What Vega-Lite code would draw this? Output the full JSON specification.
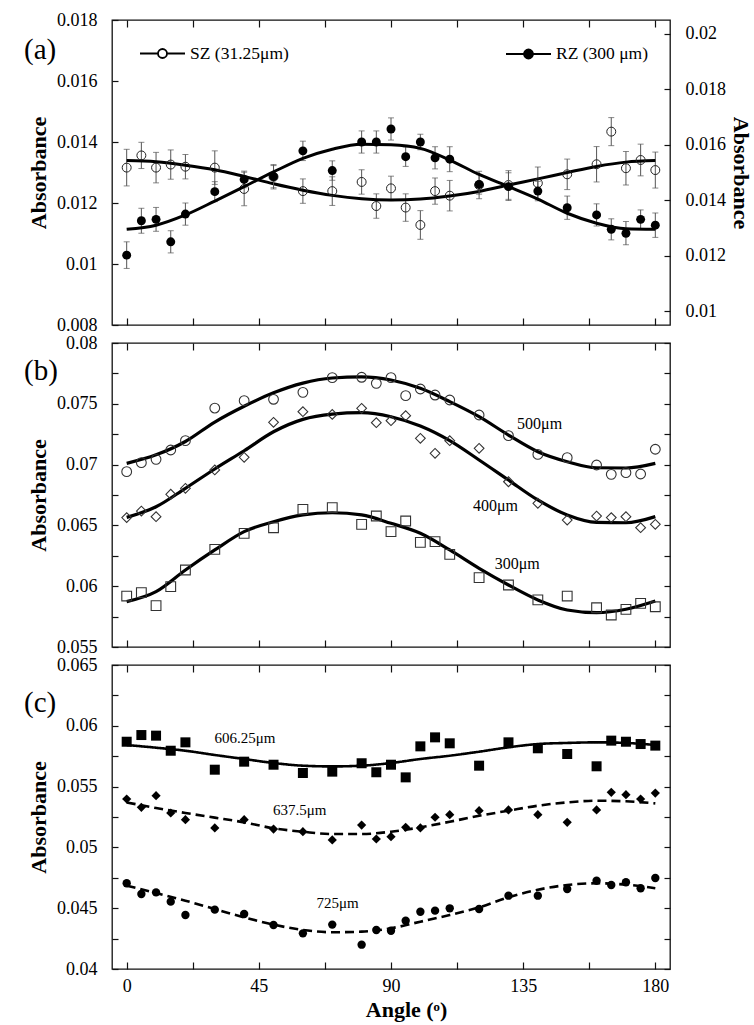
{
  "$schema": "https://vega.github.io/schema/vega-lite/v6.json",
  "background": "white",
  "padding": {"left": 23, "top": 10, "right": 0, "bottom": 2},
  "spacing": 18,
  "bounds": "flush",
  "resolve": {"scale": {"shape": "independent", "size": "independent", "strokeDash": "independent", "stroke": "independent"}, "legend": {"stroke": "independent"}},
  "datasets": {
    "a_pts": [
      {"angle": 0, "series": "SZ (31.25μm)", "value": 0.01316, "err": 0.0006},
      {"angle": 5, "series": "SZ (31.25μm)", "value": 0.01356, "err": 0.00043},
      {"angle": 10, "series": "SZ (31.25μm)", "value": 0.01316, "err": 0.0005},
      {"angle": 15, "series": "SZ (31.25μm)", "value": 0.01326, "err": 0.00048},
      {"angle": 20, "series": "SZ (31.25μm)", "value": 0.01319, "err": 0.0004},
      {"angle": 30, "series": "SZ (31.25μm)", "value": 0.01316, "err": 0.00055},
      {"angle": 40, "series": "SZ (31.25μm)", "value": 0.01246, "err": 0.00055},
      {"angle": 50, "series": "SZ (31.25μm)", "value": 0.01286, "err": 0.0004},
      {"angle": 60, "series": "SZ (31.25μm)", "value": 0.01239, "err": 0.0004},
      {"angle": 70, "series": "SZ (31.25μm)", "value": 0.01239, "err": 0.00047},
      {"angle": 80, "series": "SZ (31.25μm)", "value": 0.01269, "err": 0.0004},
      {"angle": 85, "series": "SZ (31.25μm)", "value": 0.0119, "err": 0.0004},
      {"angle": 90, "series": "SZ (31.25μm)", "value": 0.01248, "err": 0.0004},
      {"angle": 95, "series": "SZ (31.25μm)", "value": 0.01185, "err": 0.00045},
      {"angle": 100, "series": "SZ (31.25μm)", "value": 0.01128, "err": 0.00047},
      {"angle": 105, "series": "SZ (31.25μm)", "value": 0.01239, "err": 0.00043},
      {"angle": 110, "series": "SZ (31.25μm)", "value": 0.01224, "err": 0.0005},
      {"angle": 120, "series": "SZ (31.25μm)", "value": 0.01259, "err": 0.00045},
      {"angle": 130, "series": "SZ (31.25μm)", "value": 0.01259, "err": 0.00047},
      {"angle": 140, "series": "SZ (31.25μm)", "value": 0.01265, "err": 0.00053},
      {"angle": 150, "series": "SZ (31.25μm)", "value": 0.01294, "err": 0.0005},
      {"angle": 160, "series": "SZ (31.25μm)", "value": 0.01327, "err": 0.00058},
      {"angle": 165, "series": "SZ (31.25μm)", "value": 0.01434, "err": 0.00046},
      {"angle": 170, "series": "SZ (31.25μm)", "value": 0.01314, "err": 0.00055},
      {"angle": 175, "series": "SZ (31.25μm)", "value": 0.01341, "err": 0.00052},
      {"angle": 180, "series": "SZ (31.25μm)", "value": 0.01308, "err": 0.00059},
      {"angle": 0, "series": "RZ (300 μm)", "value": 0.01202, "err": 0.00048},
      {"angle": 5, "series": "RZ (300 μm)", "value": 0.01326, "err": 0.00045},
      {"angle": 10, "series": "RZ (300 μm)", "value": 0.01331, "err": 0.00043},
      {"angle": 15, "series": "RZ (300 μm)", "value": 0.0125, "err": 0.0004},
      {"angle": 20, "series": "RZ (300 μm)", "value": 0.0135, "err": 0.0004},
      {"angle": 30, "series": "RZ (300 μm)", "value": 0.01431, "err": 0.00036},
      {"angle": 40, "series": "RZ (300 μm)", "value": 0.01475, "err": 0.0003},
      {"angle": 50, "series": "RZ (300 μm)", "value": 0.01485, "err": 0.0004},
      {"angle": 60, "series": "RZ (300 μm)", "value": 0.01578, "err": 0.00035},
      {"angle": 70, "series": "RZ (300 μm)", "value": 0.01507, "err": 0.00035},
      {"angle": 80, "series": "RZ (300 μm)", "value": 0.0161, "err": 0.0004},
      {"angle": 85, "series": "RZ (300 μm)", "value": 0.0161, "err": 0.0004},
      {"angle": 90, "series": "RZ (300 μm)", "value": 0.01657, "err": 0.0004},
      {"angle": 95, "series": "RZ (300 μm)", "value": 0.01557, "err": 0.00035},
      {"angle": 100, "series": "RZ (300 μm)", "value": 0.0161, "err": 0.00028},
      {"angle": 105, "series": "RZ (300 μm)", "value": 0.01553, "err": 0.0004},
      {"angle": 110, "series": "RZ (300 μm)", "value": 0.01548, "err": 0.00045},
      {"angle": 120, "series": "RZ (300 μm)", "value": 0.01457, "err": 0.00035},
      {"angle": 130, "series": "RZ (300 μm)", "value": 0.01449, "err": 0.0005},
      {"angle": 140, "series": "RZ (300 μm)", "value": 0.01433, "err": 0.00035},
      {"angle": 150, "series": "RZ (300 μm)", "value": 0.01373, "err": 0.00042},
      {"angle": 160, "series": "RZ (300 μm)", "value": 0.01347, "err": 0.0004},
      {"angle": 165, "series": "RZ (300 μm)", "value": 0.01295, "err": 0.00038},
      {"angle": 170, "series": "RZ (300 μm)", "value": 0.01281, "err": 0.00042},
      {"angle": 175, "series": "RZ (300 μm)", "value": 0.01331, "err": 0.00034},
      {"angle": 180, "series": "RZ (300 μm)", "value": 0.0131, "err": 0.00044}
    ],
    "a_fit": [
      {"angle": 0, "series": "SZ (31.25μm)", "value": 0.01339},
      {"angle": 10, "series": "SZ (31.25μm)", "value": 0.01335},
      {"angle": 20, "series": "SZ (31.25μm)", "value": 0.01324},
      {"angle": 30, "series": "SZ (31.25μm)", "value": 0.01309},
      {"angle": 40, "series": "SZ (31.25μm)", "value": 0.01287},
      {"angle": 50, "series": "SZ (31.25μm)", "value": 0.01263},
      {"angle": 60, "series": "SZ (31.25μm)", "value": 0.01242},
      {"angle": 70, "series": "SZ (31.25μm)", "value": 0.01225},
      {"angle": 80, "series": "SZ (31.25μm)", "value": 0.01214},
      {"angle": 90, "series": "SZ (31.25μm)", "value": 0.0121},
      {"angle": 100, "series": "SZ (31.25μm)", "value": 0.01213},
      {"angle": 110, "series": "SZ (31.25μm)", "value": 0.01223},
      {"angle": 120, "series": "SZ (31.25μm)", "value": 0.01238},
      {"angle": 130, "series": "SZ (31.25μm)", "value": 0.01259},
      {"angle": 140, "series": "SZ (31.25μm)", "value": 0.01279},
      {"angle": 150, "series": "SZ (31.25μm)", "value": 0.013},
      {"angle": 160, "series": "SZ (31.25μm)", "value": 0.0132},
      {"angle": 170, "series": "SZ (31.25μm)", "value": 0.01334},
      {"angle": 180, "series": "SZ (31.25μm)", "value": 0.01339},
      {"angle": 0, "series": "RZ (300 μm)", "value": 0.01295},
      {"angle": 10, "series": "RZ (300 μm)", "value": 0.0131},
      {"angle": 20, "series": "RZ (300 μm)", "value": 0.01347},
      {"angle": 30, "series": "RZ (300 μm)", "value": 0.01397},
      {"angle": 40, "series": "RZ (300 μm)", "value": 0.01449},
      {"angle": 50, "series": "RZ (300 μm)", "value": 0.01502},
      {"angle": 60, "series": "RZ (300 μm)", "value": 0.01551},
      {"angle": 70, "series": "RZ (300 μm)", "value": 0.01584},
      {"angle": 80, "series": "RZ (300 μm)", "value": 0.01602},
      {"angle": 90, "series": "RZ (300 μm)", "value": 0.016},
      {"angle": 100, "series": "RZ (300 μm)", "value": 0.01587},
      {"angle": 110, "series": "RZ (300 μm)", "value": 0.01545},
      {"angle": 120, "series": "RZ (300 μm)", "value": 0.01493},
      {"angle": 130, "series": "RZ (300 μm)", "value": 0.01449},
      {"angle": 140, "series": "RZ (300 μm)", "value": 0.01404},
      {"angle": 150, "series": "RZ (300 μm)", "value": 0.01353},
      {"angle": 160, "series": "RZ (300 μm)", "value": 0.01317},
      {"angle": 170, "series": "RZ (300 μm)", "value": 0.01297},
      {"angle": 180, "series": "RZ (300 μm)", "value": 0.01295}
    ],
    "b_pts": [
      {"angle": 0, "series": "500μm", "value": 0.06942},
      {"angle": 5, "series": "500μm", "value": 0.07016},
      {"angle": 10, "series": "500μm", "value": 0.07043},
      {"angle": 15, "series": "500μm", "value": 0.0712},
      {"angle": 20, "series": "500μm", "value": 0.07197},
      {"angle": 30, "series": "500μm", "value": 0.07465},
      {"angle": 40, "series": "500μm", "value": 0.07526},
      {"angle": 50, "series": "500μm", "value": 0.07537},
      {"angle": 60, "series": "500μm", "value": 0.07594},
      {"angle": 70, "series": "500μm", "value": 0.07715},
      {"angle": 80, "series": "500μm", "value": 0.07718},
      {"angle": 85, "series": "500μm", "value": 0.07668},
      {"angle": 90, "series": "500μm", "value": 0.07715},
      {"angle": 95, "series": "500μm", "value": 0.07567},
      {"angle": 100, "series": "500μm", "value": 0.07622},
      {"angle": 105, "series": "500μm", "value": 0.07572},
      {"angle": 110, "series": "500μm", "value": 0.07531},
      {"angle": 120, "series": "500μm", "value": 0.07408},
      {"angle": 130, "series": "500μm", "value": 0.07238},
      {"angle": 140, "series": "500μm", "value": 0.07084},
      {"angle": 150, "series": "500μm", "value": 0.07057},
      {"angle": 160, "series": "500μm", "value": 0.06997},
      {"angle": 165, "series": "500μm", "value": 0.0692},
      {"angle": 170, "series": "500μm", "value": 0.06934},
      {"angle": 175, "series": "500μm", "value": 0.06923},
      {"angle": 180, "series": "500μm", "value": 0.07126},
      {"angle": 0, "series": "400μm", "value": 0.06564},
      {"angle": 5, "series": "400μm", "value": 0.06618},
      {"angle": 10, "series": "400μm", "value": 0.06572},
      {"angle": 15, "series": "400μm", "value": 0.06756},
      {"angle": 20, "series": "400μm", "value": 0.06805},
      {"angle": 30, "series": "400μm", "value": 0.06956},
      {"angle": 40, "series": "400μm", "value": 0.0706},
      {"angle": 50, "series": "400μm", "value": 0.07348},
      {"angle": 60, "series": "400μm", "value": 0.07435},
      {"angle": 70, "series": "400μm", "value": 0.07413},
      {"angle": 80, "series": "400μm", "value": 0.07463},
      {"angle": 85, "series": "400μm", "value": 0.07345},
      {"angle": 90, "series": "400μm", "value": 0.07361},
      {"angle": 95, "series": "400μm", "value": 0.07402},
      {"angle": 100, "series": "400μm", "value": 0.07216},
      {"angle": 105, "series": "400μm", "value": 0.07093},
      {"angle": 110, "series": "400μm", "value": 0.07197},
      {"angle": 120, "series": "400μm", "value": 0.07134},
      {"angle": 130, "series": "400μm", "value": 0.06859},
      {"angle": 140, "series": "400μm", "value": 0.06682},
      {"angle": 150, "series": "400μm", "value": 0.06544},
      {"angle": 160, "series": "400μm", "value": 0.06577},
      {"angle": 165, "series": "400μm", "value": 0.06564},
      {"angle": 170, "series": "400μm", "value": 0.06572},
      {"angle": 175, "series": "400μm", "value": 0.06481},
      {"angle": 180, "series": "400μm", "value": 0.06509},
      {"angle": 0, "series": "300μm", "value": 0.05919},
      {"angle": 5, "series": "300μm", "value": 0.05947},
      {"angle": 10, "series": "300μm", "value": 0.0584},
      {"angle": 15, "series": "300μm", "value": 0.05996},
      {"angle": 20, "series": "300μm", "value": 0.06133},
      {"angle": 30, "series": "300μm", "value": 0.06303},
      {"angle": 40, "series": "300μm", "value": 0.06435},
      {"angle": 50, "series": "300μm", "value": 0.06481},
      {"angle": 60, "series": "300μm", "value": 0.06632},
      {"angle": 70, "series": "300μm", "value": 0.06646},
      {"angle": 80, "series": "300μm", "value": 0.06509},
      {"angle": 85, "series": "300μm", "value": 0.06577},
      {"angle": 90, "series": "300μm", "value": 0.06449},
      {"angle": 95, "series": "300μm", "value": 0.06536},
      {"angle": 100, "series": "300μm", "value": 0.06361},
      {"angle": 105, "series": "300μm", "value": 0.06366},
      {"angle": 110, "series": "300μm", "value": 0.06262},
      {"angle": 120, "series": "300μm", "value": 0.0607},
      {"angle": 130, "series": "300μm", "value": 0.0601},
      {"angle": 140, "series": "300μm", "value": 0.05887},
      {"angle": 150, "series": "300μm", "value": 0.05919},
      {"angle": 160, "series": "300μm", "value": 0.05823},
      {"angle": 165, "series": "300μm", "value": 0.05763},
      {"angle": 170, "series": "300μm", "value": 0.0581},
      {"angle": 175, "series": "300μm", "value": 0.05859},
      {"angle": 180, "series": "300μm", "value": 0.05831}
    ],
    "b_fit": [
      {"angle": 0, "series": "500μm", "value": 0.0701},
      {"angle": 10, "series": "500μm", "value": 0.0708},
      {"angle": 20, "series": "500μm", "value": 0.0719},
      {"angle": 30, "series": "500μm", "value": 0.0735},
      {"angle": 40, "series": "500μm", "value": 0.0748},
      {"angle": 50, "series": "500μm", "value": 0.0759},
      {"angle": 60, "series": "500μm", "value": 0.0767},
      {"angle": 70, "series": "500μm", "value": 0.07712},
      {"angle": 80, "series": "500μm", "value": 0.07722},
      {"angle": 90, "series": "500μm", "value": 0.07696},
      {"angle": 100, "series": "500μm", "value": 0.07627},
      {"angle": 110, "series": "500μm", "value": 0.07518},
      {"angle": 120, "series": "500μm", "value": 0.07394},
      {"angle": 130, "series": "500μm", "value": 0.07243},
      {"angle": 140, "series": "500μm", "value": 0.07106},
      {"angle": 150, "series": "500μm", "value": 0.07024},
      {"angle": 160, "series": "500μm", "value": 0.06974},
      {"angle": 170, "series": "500μm", "value": 0.06972},
      {"angle": 180, "series": "500μm", "value": 0.0701},
      {"angle": 0, "series": "400μm", "value": 0.06566},
      {"angle": 10, "series": "400μm", "value": 0.06653},
      {"angle": 20, "series": "400μm", "value": 0.06805},
      {"angle": 30, "series": "400μm", "value": 0.06964},
      {"angle": 40, "series": "400μm", "value": 0.07114},
      {"angle": 50, "series": "400μm", "value": 0.0727},
      {"angle": 60, "series": "400μm", "value": 0.07372},
      {"angle": 70, "series": "400μm", "value": 0.07415},
      {"angle": 80, "series": "400μm", "value": 0.07427},
      {"angle": 90, "series": "400μm", "value": 0.07394},
      {"angle": 100, "series": "400μm", "value": 0.07317},
      {"angle": 110, "series": "400μm", "value": 0.07197},
      {"angle": 120, "series": "400μm", "value": 0.07038},
      {"angle": 130, "series": "400μm", "value": 0.06873},
      {"angle": 140, "series": "400μm", "value": 0.06709},
      {"angle": 150, "series": "400μm", "value": 0.06586},
      {"angle": 160, "series": "400μm", "value": 0.06525},
      {"angle": 170, "series": "400μm", "value": 0.06522},
      {"angle": 180, "series": "400μm", "value": 0.06572},
      {"angle": 0, "series": "300μm", "value": 0.05873},
      {"angle": 10, "series": "300μm", "value": 0.05955},
      {"angle": 20, "series": "300μm", "value": 0.06133},
      {"angle": 30, "series": "300μm", "value": 0.06298},
      {"angle": 40, "series": "300μm", "value": 0.06449},
      {"angle": 50, "series": "300μm", "value": 0.0653},
      {"angle": 60, "series": "300μm", "value": 0.06586},
      {"angle": 70, "series": "300μm", "value": 0.06604},
      {"angle": 80, "series": "300μm", "value": 0.06586},
      {"angle": 90, "series": "300μm", "value": 0.06517},
      {"angle": 100, "series": "300μm", "value": 0.06435},
      {"angle": 110, "series": "300μm", "value": 0.06298},
      {"angle": 120, "series": "300μm", "value": 0.06147},
      {"angle": 130, "series": "300μm", "value": 0.0601},
      {"angle": 140, "series": "300μm", "value": 0.05887},
      {"angle": 150, "series": "300μm", "value": 0.05804},
      {"angle": 160, "series": "300μm", "value": 0.05782},
      {"angle": 170, "series": "300μm", "value": 0.0581},
      {"angle": 180, "series": "300μm", "value": 0.05878}
    ],
    "b_lab": [
      {"angle": 140.6, "value": 0.07331, "label": "500μm"},
      {"angle": 125.6, "value": 0.0666, "label": "400μm"},
      {"angle": 133, "value": 0.0618, "label": "300μm"}
    ],
    "c_pts": [
      {"angle": 0, "series": "606.25μm", "value": 0.05869},
      {"angle": 5, "series": "606.25μm", "value": 0.05924},
      {"angle": 10, "series": "606.25μm", "value": 0.05919},
      {"angle": 15, "series": "606.25μm", "value": 0.05795},
      {"angle": 20, "series": "606.25μm", "value": 0.05864},
      {"angle": 30, "series": "606.25μm", "value": 0.05639},
      {"angle": 40, "series": "606.25μm", "value": 0.05705},
      {"angle": 50, "series": "606.25μm", "value": 0.0568},
      {"angle": 60, "series": "606.25μm", "value": 0.05612},
      {"angle": 70, "series": "606.25μm", "value": 0.05623},
      {"angle": 80, "series": "606.25μm", "value": 0.05692},
      {"angle": 85, "series": "606.25μm", "value": 0.05618},
      {"angle": 90, "series": "606.25μm", "value": 0.0568},
      {"angle": 95, "series": "606.25μm", "value": 0.05576},
      {"angle": 100, "series": "606.25μm", "value": 0.05831},
      {"angle": 105, "series": "606.25μm", "value": 0.05905},
      {"angle": 110, "series": "606.25μm", "value": 0.05856},
      {"angle": 120, "series": "606.25μm", "value": 0.05672},
      {"angle": 130, "series": "606.25μm", "value": 0.05864},
      {"angle": 140, "series": "606.25μm", "value": 0.05815},
      {"angle": 150, "series": "606.25μm", "value": 0.05768},
      {"angle": 160, "series": "606.25μm", "value": 0.05667},
      {"angle": 165, "series": "606.25μm", "value": 0.05878},
      {"angle": 170, "series": "606.25μm", "value": 0.05869},
      {"angle": 175, "series": "606.25μm", "value": 0.0585},
      {"angle": 180, "series": "606.25μm", "value": 0.05837},
      {"angle": 0, "series": "637.5μm", "value": 0.05398},
      {"angle": 5, "series": "637.5μm", "value": 0.0533},
      {"angle": 10, "series": "637.5μm", "value": 0.05425},
      {"angle": 15, "series": "637.5μm", "value": 0.05283},
      {"angle": 20, "series": "637.5μm", "value": 0.05228},
      {"angle": 30, "series": "637.5μm", "value": 0.0516},
      {"angle": 40, "series": "637.5μm", "value": 0.05228},
      {"angle": 50, "series": "637.5μm", "value": 0.05151},
      {"angle": 60, "series": "637.5μm", "value": 0.05129},
      {"angle": 70, "series": "637.5μm", "value": 0.05061},
      {"angle": 80, "series": "637.5μm", "value": 0.05184},
      {"angle": 85, "series": "637.5μm", "value": 0.05069},
      {"angle": 90, "series": "637.5μm", "value": 0.05088},
      {"angle": 95, "series": "637.5μm", "value": 0.05165},
      {"angle": 100, "series": "637.5μm", "value": 0.0516},
      {"angle": 105, "series": "637.5μm", "value": 0.05248},
      {"angle": 110, "series": "637.5μm", "value": 0.05269},
      {"angle": 120, "series": "637.5μm", "value": 0.05302},
      {"angle": 130, "series": "637.5μm", "value": 0.05308},
      {"angle": 140, "series": "637.5μm", "value": 0.05269},
      {"angle": 150, "series": "637.5μm", "value": 0.05206},
      {"angle": 160, "series": "637.5μm", "value": 0.05308},
      {"angle": 165, "series": "637.5μm", "value": 0.05453},
      {"angle": 170, "series": "637.5μm", "value": 0.05434},
      {"angle": 175, "series": "637.5μm", "value": 0.05398},
      {"angle": 180, "series": "637.5μm", "value": 0.05447},
      {"angle": 0, "series": "725μm", "value": 0.04705},
      {"angle": 5, "series": "725μm", "value": 0.04617},
      {"angle": 10, "series": "725μm", "value": 0.0463},
      {"angle": 15, "series": "725μm", "value": 0.04554},
      {"angle": 20, "series": "725μm", "value": 0.04444},
      {"angle": 30, "series": "725μm", "value": 0.04488},
      {"angle": 40, "series": "725μm", "value": 0.04452},
      {"angle": 50, "series": "725μm", "value": 0.04362},
      {"angle": 60, "series": "725μm", "value": 0.04293},
      {"angle": 70, "series": "725μm", "value": 0.04365},
      {"angle": 80, "series": "725μm", "value": 0.042},
      {"angle": 85, "series": "725μm", "value": 0.04321},
      {"angle": 90, "series": "725μm", "value": 0.04315},
      {"angle": 95, "series": "725μm", "value": 0.04397},
      {"angle": 100, "series": "725μm", "value": 0.04471},
      {"angle": 105, "series": "725μm", "value": 0.0448},
      {"angle": 110, "series": "725μm", "value": 0.04499},
      {"angle": 120, "series": "725μm", "value": 0.04493},
      {"angle": 130, "series": "725μm", "value": 0.04603},
      {"angle": 140, "series": "725μm", "value": 0.04603},
      {"angle": 150, "series": "725μm", "value": 0.04658},
      {"angle": 160, "series": "725μm", "value": 0.04726},
      {"angle": 165, "series": "725μm", "value": 0.04691},
      {"angle": 170, "series": "725μm", "value": 0.04713},
      {"angle": 175, "series": "725μm", "value": 0.04664},
      {"angle": 180, "series": "725μm", "value": 0.04748}
    ],
    "c_fit": [
      {"angle": 0, "series": "606.25μm", "value": 0.05842},
      {"angle": 10, "series": "606.25μm", "value": 0.0582},
      {"angle": 20, "series": "606.25μm", "value": 0.05795},
      {"angle": 30, "series": "606.25μm", "value": 0.0576},
      {"angle": 40, "series": "606.25μm", "value": 0.05727},
      {"angle": 50, "series": "606.25μm", "value": 0.05694},
      {"angle": 60, "series": "606.25μm", "value": 0.05672},
      {"angle": 70, "series": "606.25μm", "value": 0.05666},
      {"angle": 80, "series": "606.25μm", "value": 0.05672},
      {"angle": 90, "series": "606.25μm", "value": 0.05694},
      {"angle": 100, "series": "606.25μm", "value": 0.05727},
      {"angle": 110, "series": "606.25μm", "value": 0.05754},
      {"angle": 120, "series": "606.25μm", "value": 0.05787},
      {"angle": 130, "series": "606.25μm", "value": 0.05823},
      {"angle": 140, "series": "606.25μm", "value": 0.0585},
      {"angle": 150, "series": "606.25μm", "value": 0.05859},
      {"angle": 160, "series": "606.25μm", "value": 0.05864},
      {"angle": 170, "series": "606.25μm", "value": 0.05859},
      {"angle": 180, "series": "606.25μm", "value": 0.05842},
      {"angle": 0, "series": "637.5μm", "value": 0.0537},
      {"angle": 10, "series": "637.5μm", "value": 0.05324},
      {"angle": 20, "series": "637.5μm", "value": 0.05283},
      {"angle": 30, "series": "637.5μm", "value": 0.05245},
      {"angle": 40, "series": "637.5μm", "value": 0.05206},
      {"angle": 50, "series": "637.5μm", "value": 0.05157},
      {"angle": 60, "series": "637.5μm", "value": 0.05129},
      {"angle": 70, "series": "637.5μm", "value": 0.0511},
      {"angle": 80, "series": "637.5μm", "value": 0.0511},
      {"angle": 90, "series": "637.5μm", "value": 0.05129},
      {"angle": 100, "series": "637.5μm", "value": 0.05165},
      {"angle": 110, "series": "637.5μm", "value": 0.05211},
      {"angle": 120, "series": "637.5μm", "value": 0.0526},
      {"angle": 130, "series": "637.5μm", "value": 0.05302},
      {"angle": 140, "series": "637.5μm", "value": 0.05343},
      {"angle": 150, "series": "637.5μm", "value": 0.0537},
      {"angle": 160, "series": "637.5μm", "value": 0.05384},
      {"angle": 170, "series": "637.5μm", "value": 0.05379},
      {"angle": 180, "series": "637.5μm", "value": 0.05362},
      {"angle": 0, "series": "725μm", "value": 0.04685},
      {"angle": 10, "series": "725μm", "value": 0.04625},
      {"angle": 20, "series": "725μm", "value": 0.04562},
      {"angle": 30, "series": "725μm", "value": 0.04493},
      {"angle": 40, "series": "725μm", "value": 0.04425},
      {"angle": 50, "series": "725μm", "value": 0.04365},
      {"angle": 60, "series": "725μm", "value": 0.04321},
      {"angle": 70, "series": "725μm", "value": 0.04302},
      {"angle": 80, "series": "725μm", "value": 0.04307},
      {"angle": 90, "series": "725μm", "value": 0.04335},
      {"angle": 100, "series": "725μm", "value": 0.04389},
      {"angle": 110, "series": "725μm", "value": 0.04444},
      {"angle": 120, "series": "725μm", "value": 0.04507},
      {"angle": 130, "series": "725μm", "value": 0.0459},
      {"angle": 140, "series": "725μm", "value": 0.04652},
      {"angle": 150, "series": "725μm", "value": 0.04691},
      {"angle": 160, "series": "725μm", "value": 0.04705},
      {"angle": 170, "series": "725μm", "value": 0.04694},
      {"angle": 180, "series": "725μm", "value": 0.04664}
    ],
    "c_lab": [
      {"angle": 40.3, "value": 0.059, "label": "606.25μm"},
      {"angle": 58.9, "value": 0.05308, "label": "637.5μm"},
      {"angle": 71.8, "value": 0.0454, "label": "725μm"}
    ]
  },
  "vconcat": [
    {
      "width": 558,
      "height": 305,
      "title": {"text": "(a)", "anchor": "start", "frame": "group", "orient": "top", "offset": 0, "dx": -88, "dy": 68, "fontSize": 29, "font": "Liberation Serif", "fontWeight": "normal", "baseline": "middle", "color": "black"},
      "layer": [
        {
          "layer": [
            {
              "data": {"name": "a_pts"},
              "transform": [{"filter": "datum.series === 'SZ (31.25μm)'"}],
              "mark": {"type": "errorbar", "ticks": {"size": 6}, "color": "#555", "thickness": 1},
              "encoding": {
                "x": {"field": "angle", "type": "quantitative", "scale": {"domain": [-5, 185], "nice": false, "zero": false},
                      "axis": {"orient": "bottom", "values": [0, 22.5, 45, 67.5, 90, 112.5, 135, 157.5, 180], "labels": false, "tickSize": -7, "title": null}},
                "y": {"field": "value", "type": "quantitative", "scale": {"domain": [0.008, 0.018], "nice": false, "zero": false},
                      "axis": {"orient": "left", "values": [0.008, 0.009, 0.01, 0.011, 0.012, 0.013, 0.014, 0.015, 0.016, 0.017, 0.018], "format": "~g", "labelExpr": "round(datum.value*1000) % 2 === 0 ? datum.label : ''", "tickSize": -6, "labelPadding": 21, "title": "Absorbance", "titlePadding": 6}},
                "yError": {"field": "err"}
              }
            },
            {
              "data": {"name": "a_fit"},
              "transform": [{"filter": "datum.series === 'SZ (31.25μm)'"}],
              "mark": {"type": "line", "interpolate": "monotone", "strokeWidth": 3},
              "encoding": {
                "x": {"field": "angle", "type": "quantitative"},
                "y": {"field": "value", "type": "quantitative"},
                "stroke": {"field": "series", "type": "nominal", "scale": {"range": ["black"]},
                           "legend": {"orient": "none", "legendX": 27, "legendY": 10, "title": null, "padding": 0,
                                      "symbolType": "M-1,0H-0.2M0.2,0H1M0.2,0A0.2,0.2,0,1,1,-0.2,0A0.2,0.2,0,1,1,0.2,0",
                                      "symbolSize": 2025, "symbolStrokeWidth": 1.8, "symbolFillColor": "white", "symbolStrokeColor": "black",
                                      "labelFont": "Liberation Serif", "labelFontSize": 17.5, "labelColor": "black", "labelOffset": 4, "labelLimit": 300}}
              }
            },
            {
              "data": {"name": "a_pts"},
              "transform": [{"filter": "datum.series === 'SZ (31.25μm)'"}],
              "mark": {"type": "point", "shape": "circle", "size": 80, "filled": false, "stroke": "#222", "strokeWidth": 1, "opacity": 1},
              "encoding": {
                "x": {"field": "angle", "type": "quantitative"},
                "y": {"field": "value", "type": "quantitative"}
              }
            }
          ]
        },
        {
          "layer": [
            {
              "data": {"name": "a_pts"},
              "transform": [{"filter": "datum.series === 'RZ (300 μm)'"}],
              "mark": {"type": "errorbar", "ticks": {"size": 6}, "color": "#555", "thickness": 1},
              "encoding": {
                "x": {"field": "angle", "type": "quantitative", "scale": {"domain": [-5, 185], "nice": false, "zero": false},
                      "axis": {"orient": "top", "values": [0, 22.5, 45, 67.5, 90, 112.5, 135, 157.5, 180], "labels": false, "tickSize": -7, "title": null}},
                "y": {"field": "value", "type": "quantitative", "scale": {"domain": [0.0095, 0.0205], "nice": false, "zero": false},
                      "axis": {"orient": "right", "values": [0.01, 0.011, 0.012, 0.013, 0.014, 0.015, 0.016, 0.017, 0.018, 0.019, 0.02], "format": "~g", "labelExpr": "round(datum.value*1000) % 2 === 0 ? datum.label : ''", "tickSize": -6, "labelPadding": 21, "title": "Absorbance", "titlePadding": 3}},
                "yError": {"field": "err"}
              }
            },
            {
              "data": {"name": "a_fit"},
              "transform": [{"filter": "datum.series === 'RZ (300 μm)'"}],
              "mark": {"type": "line", "interpolate": "monotone", "strokeWidth": 3},
              "encoding": {
                "x": {"field": "angle", "type": "quantitative"},
                "y": {"field": "value", "type": "quantitative"},
                "stroke": {"field": "series", "type": "nominal", "scale": {"range": ["black"]},
                           "legend": {"orient": "none", "legendX": 393, "legendY": 10.5, "title": null, "padding": 0,
                                      "symbolType": "M-1,0H-0.2M0.2,0H1M0.2,0A0.2,0.2,0,1,1,-0.2,0A0.2,0.2,0,1,1,0.2,0",
                                      "symbolSize": 2025, "symbolStrokeWidth": 1.8, "symbolFillColor": "black", "symbolStrokeColor": "black",
                                      "labelFont": "Liberation Serif", "labelFontSize": 17.5, "labelColor": "black", "labelOffset": 4, "labelLimit": 300}}
              }
            },
            {
              "data": {"name": "a_pts"},
              "transform": [{"filter": "datum.series === 'RZ (300 μm)'"}],
              "mark": {"type": "point", "shape": "circle", "size": 80, "filled": true, "color": "black", "opacity": 1},
              "encoding": {
                "x": {"field": "angle", "type": "quantitative"},
                "y": {"field": "value", "type": "quantitative"}
              }
            }
          ]
        }
      ],
      "resolve": {"scale": {"y": "independent", "stroke": "independent"}, "axis": {"x": "independent", "y": "independent"}, "legend": {"stroke": "independent"}}
    },
    {
      "width": 558,
      "height": 304,
      "title": {"text": "(b)", "anchor": "start", "frame": "group", "orient": "top", "offset": 0, "dx": -88, "dy": 66, "fontSize": 29, "font": "Liberation Serif", "fontWeight": "normal", "baseline": "middle", "color": "black"},
      "layer": [
        {
          "data": {"name": "b_fit"},
          "mark": {"type": "line", "interpolate": "monotone", "strokeWidth": 3.2, "color": "black"},
          "encoding": {
            "x": {"field": "angle", "type": "quantitative", "scale": {"domain": [-5, 185], "nice": false, "zero": false},
                  "axis": {"orient": "bottom", "values": [0, 22.5, 45, 67.5, 90, 112.5, 135, 157.5, 180], "labels": false, "tickSize": -7, "title": null}},
            "y": {"field": "value", "type": "quantitative", "scale": {"domain": [0.055, 0.08], "nice": false, "zero": false},
                  "axis": {"orient": "left", "values": [0.055, 0.0575, 0.06, 0.0625, 0.065, 0.0675, 0.07, 0.0725, 0.075, 0.0775, 0.08], "format": "~g", "labelExpr": "round(datum.value*2000) % 10 === 0 ? datum.label : ''", "tickSize": -6, "labelPadding": 21, "title": "Absorbance", "titlePadding": 6}},
            "detail": {"field": "series", "type": "nominal"}
          }
        },
        {
          "data": {"name": "b_pts"},
          "mark": {"type": "point", "filled": false, "stroke": "#333", "strokeWidth": 1.1, "size": 95, "opacity": 1},
          "encoding": {
            "x": {"field": "angle", "type": "quantitative",
                  "axis": {"orient": "top", "values": [0, 22.5, 45, 67.5, 90, 112.5, 135, 157.5, 180], "labels": false, "tickSize": -7, "title": null}},
            "y": {"field": "value", "type": "quantitative",
                  "axis": {"orient": "right", "values": [0.055, 0.0575, 0.06, 0.0625, 0.065, 0.0675, 0.07, 0.0725, 0.075, 0.0775, 0.08], "labels": false, "tickSize": -6, "title": null}},
            "shape": {"field": "series", "type": "nominal", "scale": {"domain": ["500μm", "400μm", "300μm"], "range": ["circle", "diamond", "square"]}, "legend": null}
          }
        },
        {
          "data": {"name": "b_lab"},
          "mark": {"type": "text", "font": "Liberation Serif", "fontSize": 16, "color": "black", "align": "center", "baseline": "middle"},
          "encoding": {
            "x": {"field": "angle", "type": "quantitative", "axis": null},
            "y": {"field": "value", "type": "quantitative", "axis": null},
            "text": {"field": "label"}
          }
        }
      ],
      "resolve": {"axis": {"x": "independent", "y": "independent"}}
    },
    {
      "width": 558,
      "height": 304,
      "title": {"text": "(c)", "anchor": "start", "frame": "group", "orient": "top", "offset": 0, "dx": -88, "dy": 76, "fontSize": 29, "font": "Liberation Serif", "fontWeight": "normal", "baseline": "middle", "color": "black"},
      "layer": [
        {
          "data": {"name": "c_fit"},
          "mark": {"type": "line", "interpolate": "monotone", "strokeWidth": 2.6, "color": "black"},
          "encoding": {
            "x": {"field": "angle", "type": "quantitative", "scale": {"domain": [-5, 185], "nice": false, "zero": false},
                  "axis": {"orient": "bottom", "values": [0, 22.5, 45, 67.5, 90, 112.5, 135, 157.5, 180], "labelExpr": "datum.value % 45 === 0 ? datum.label : ''", "tickSize": -7, "labelPadding": 15, "title": "Angle (ᵒ)", "titlePadding": 4, "titleX": 294}},
            "y": {"field": "value", "type": "quantitative", "scale": {"domain": [0.04, 0.065], "nice": false, "zero": false},
                  "axis": {"orient": "left", "values": [0.04, 0.0425, 0.045, 0.0475, 0.05, 0.0525, 0.055, 0.0575, 0.06, 0.0625, 0.065], "format": "~g", "labelExpr": "round(datum.value*2000) % 10 === 0 ? datum.label : ''", "tickSize": -6, "labelPadding": 21, "title": "Absorbance", "titlePadding": 6}},
            "strokeDash": {"field": "series", "type": "nominal", "scale": {"domain": ["606.25μm", "637.5μm", "725μm"], "range": [[1, 0], [9, 5], [9, 5]]}, "legend": null}
          }
        },
        {
          "data": {"name": "c_pts"},
          "mark": {"type": "point", "filled": true, "color": "black", "opacity": 1},
          "encoding": {
            "x": {"field": "angle", "type": "quantitative",
                  "axis": {"orient": "top", "values": [0, 22.5, 45, 67.5, 90, 112.5, 135, 157.5, 180], "labels": false, "tickSize": -7, "title": null}},
            "y": {"field": "value", "type": "quantitative",
                  "axis": {"orient": "right", "values": [0.04, 0.0425, 0.045, 0.0475, 0.05, 0.0525, 0.055, 0.0575, 0.06, 0.0625, 0.065], "labels": false, "tickSize": -6, "title": null}},
            "shape": {"field": "series", "type": "nominal", "scale": {"domain": ["606.25μm", "637.5μm", "725μm"], "range": ["square", "diamond", "circle"]}, "legend": null},
            "size": {"field": "series", "type": "ordinal", "scale": {"domain": ["606.25μm", "637.5μm", "725μm"], "range": [100, 70, 85]}, "legend": null}
          }
        },
        {
          "data": {"name": "c_lab"},
          "mark": {"type": "text", "font": "Liberation Serif", "fontSize": 15, "color": "black", "align": "center", "baseline": "middle"},
          "encoding": {
            "x": {"field": "angle", "type": "quantitative", "axis": null},
            "y": {"field": "value", "type": "quantitative", "axis": null},
            "text": {"field": "label"}
          }
        }
      ],
      "resolve": {"axis": {"x": "independent", "y": "independent"}}
    }
  ],
  "config": {
    "font": "Liberation Serif",
    "view": {"stroke": "#111", "strokeWidth": 1.3},
    "legend": {"labelFont": "Liberation Serif"},
    "axis": {
      "domain": false,
      "grid": false,
      "labelFont": "Liberation Serif",
      "labelFontSize": 18,
      "labelColor": "black",
      "labelOverlap": false,
      "labelFlush": false,
      "titleFont": "Liberation Serif",
      "titleFontSize": 22,
      "titleFontWeight": "bold",
      "titleColor": "black",
      "tickColor": "#111",
      "tickWidth": 1.2
    }
  }
}
